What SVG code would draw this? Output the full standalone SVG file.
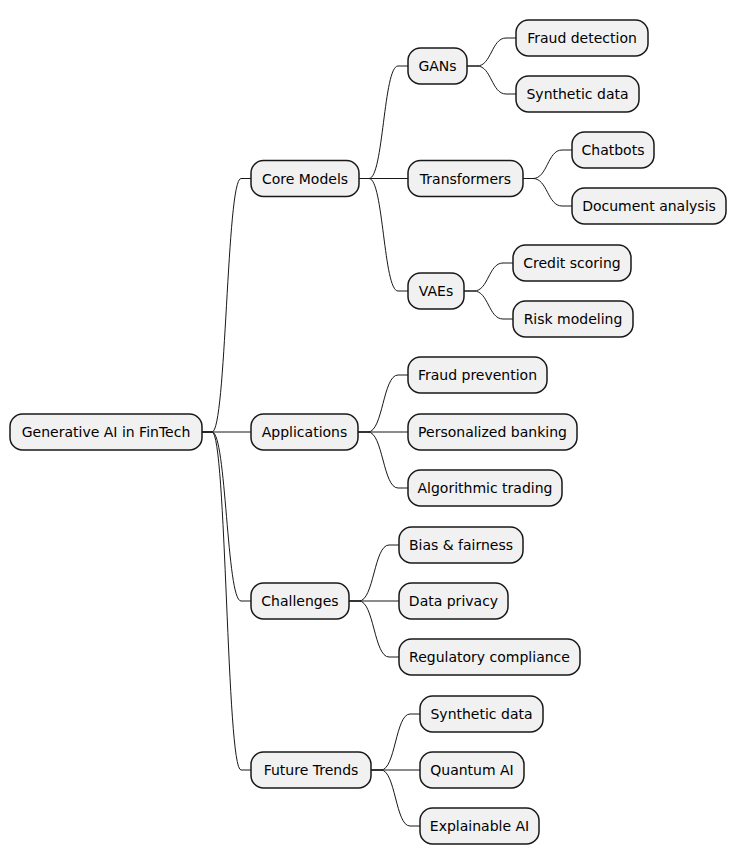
<svg xmlns="http://www.w3.org/2000/svg" width="745" height="864" viewBox="0 0 745 864">
<style>
rect{fill:#F1F1F1;stroke:#181818;stroke-width:1.5}
text{font-family:"DejaVu Sans",sans-serif;font-size:14px;fill:#000;text-anchor:middle}
#connectors path{fill:none;stroke:#181818;stroke-width:1}
</style>
<rect x="0" y="0" width="745" height="864" style="fill:#fff;stroke:none"/>
<g id="connectors">
<path d="M202,432 H212 C226.5,432 226.5,178.5 241,178.5 H251"/>
<path d="M202,432 H251"/>
<path d="M202,432 H212 C226.5,432 226.5,601 241,601 H251"/>
<path d="M202,432 H212 C226.5,432 226.5,770 241,770 H251"/>
<path d="M359,178.5 H369 C383.5,178.5 383.5,66 398,66 H408"/>
<path d="M359,178.5 H408"/>
<path d="M359,178.5 H369 C383.5,178.5 383.5,291 398,291 H408"/>
<path d="M467,66 H477 C491.5,66 491.5,38 506,38 H516"/>
<path d="M467,66 H477 C491.5,66 491.5,94 506,94 H516"/>
<path d="M523,178.5 H533 C547.5,178.5 547.5,150 562,150 H572"/>
<path d="M523,178.5 H533 C547.5,178.5 547.5,206 562,206 H572"/>
<path d="M464,291 H474 C488.5,291 488.5,263 503,263 H513"/>
<path d="M464,291 H474 C488.5,291 488.5,319 503,319 H513"/>
<path d="M358,432 H368 C383,432 383,375 398,375 H408"/>
<path d="M358,432 H408"/>
<path d="M358,432 H368 C383,432 383,488 398,488 H408"/>
<path d="M349,601 H359 C374,601 374,545 389,545 H399"/>
<path d="M349,601 H399"/>
<path d="M349,601 H359 C374,601 374,657 389,657 H399"/>
<path d="M371,770 H381 C395.5,770 395.5,714 410,714 H420"/>
<path d="M371,770 H420"/>
<path d="M371,770 H381 C395.5,770 395.5,826 410,826 H420"/>
</g>
<g id="root"><rect x="10" y="414" width="192" height="36" rx="12.5"/><text x="106" y="437">Generative AI in FinTech</text></g>
<g id="core-models"><rect x="251" y="160.5" width="108" height="36" rx="12.5"/><text x="305" y="183.5">Core Models</text></g>
<g id="applications"><rect x="251" y="414" width="107" height="36" rx="12.5"/><text x="304.5" y="437">Applications</text></g>
<g id="challenges"><rect x="251" y="583" width="98" height="36" rx="12.5"/><text x="300" y="606">Challenges</text></g>
<g id="future-trends"><rect x="251" y="752" width="120" height="36" rx="12.5"/><text x="311" y="775">Future Trends</text></g>
<g id="gans"><rect x="408" y="48" width="59" height="36" rx="12.5"/><text x="437.5" y="71">GANs</text></g>
<g id="transformers"><rect x="408" y="160.5" width="115" height="36" rx="12.5"/><text x="465.5" y="183.5">Transformers</text></g>
<g id="vaes"><rect x="408" y="273" width="56" height="36" rx="12.5"/><text x="436" y="296">VAEs</text></g>
<g id="fraud-detection"><rect x="516" y="20" width="132" height="36" rx="12.5"/><text x="582" y="43">Fraud detection</text></g>
<g id="synthetic-data-1"><rect x="516" y="76" width="123" height="36" rx="12.5"/><text x="577.5" y="99">Synthetic data</text></g>
<g id="chatbots"><rect x="572" y="132" width="82" height="36" rx="12.5"/><text x="613" y="155">Chatbots</text></g>
<g id="document-analysis"><rect x="572" y="188" width="154" height="36" rx="12.5"/><text x="649" y="211">Document analysis</text></g>
<g id="credit-scoring"><rect x="513" y="245" width="118" height="36" rx="12.5"/><text x="572" y="268">Credit scoring</text></g>
<g id="risk-modeling"><rect x="513" y="301" width="120" height="36" rx="12.5"/><text x="573" y="324">Risk modeling</text></g>
<g id="fraud-prevention"><rect x="408" y="357" width="139" height="36" rx="12.5"/><text x="477.5" y="380">Fraud prevention</text></g>
<g id="personalized-banking"><rect x="408" y="414" width="169" height="36" rx="12.5"/><text x="492.5" y="437">Personalized banking</text></g>
<g id="algorithmic-trading"><rect x="408" y="470" width="154" height="36" rx="12.5"/><text x="485" y="493">Algorithmic trading</text></g>
<g id="bias-fairness"><rect x="399" y="527" width="124" height="36" rx="12.5"/><text x="461" y="550">Bias &amp; fairness</text></g>
<g id="data-privacy"><rect x="399" y="583" width="109" height="36" rx="12.5"/><text x="453.5" y="606">Data privacy</text></g>
<g id="regulatory-compliance"><rect x="399" y="639" width="181" height="36" rx="12.5"/><text x="489.5" y="662">Regulatory compliance</text></g>
<g id="synthetic-data-2"><rect x="420" y="696" width="123" height="36" rx="12.5"/><text x="481.5" y="719">Synthetic data</text></g>
<g id="quantum-ai"><rect x="420" y="752" width="104" height="36" rx="12.5"/><text x="472" y="775">Quantum AI</text></g>
<g id="explainable-ai"><rect x="420" y="808" width="119" height="36" rx="12.5"/><text x="479.5" y="831">Explainable AI</text></g>
</svg>
